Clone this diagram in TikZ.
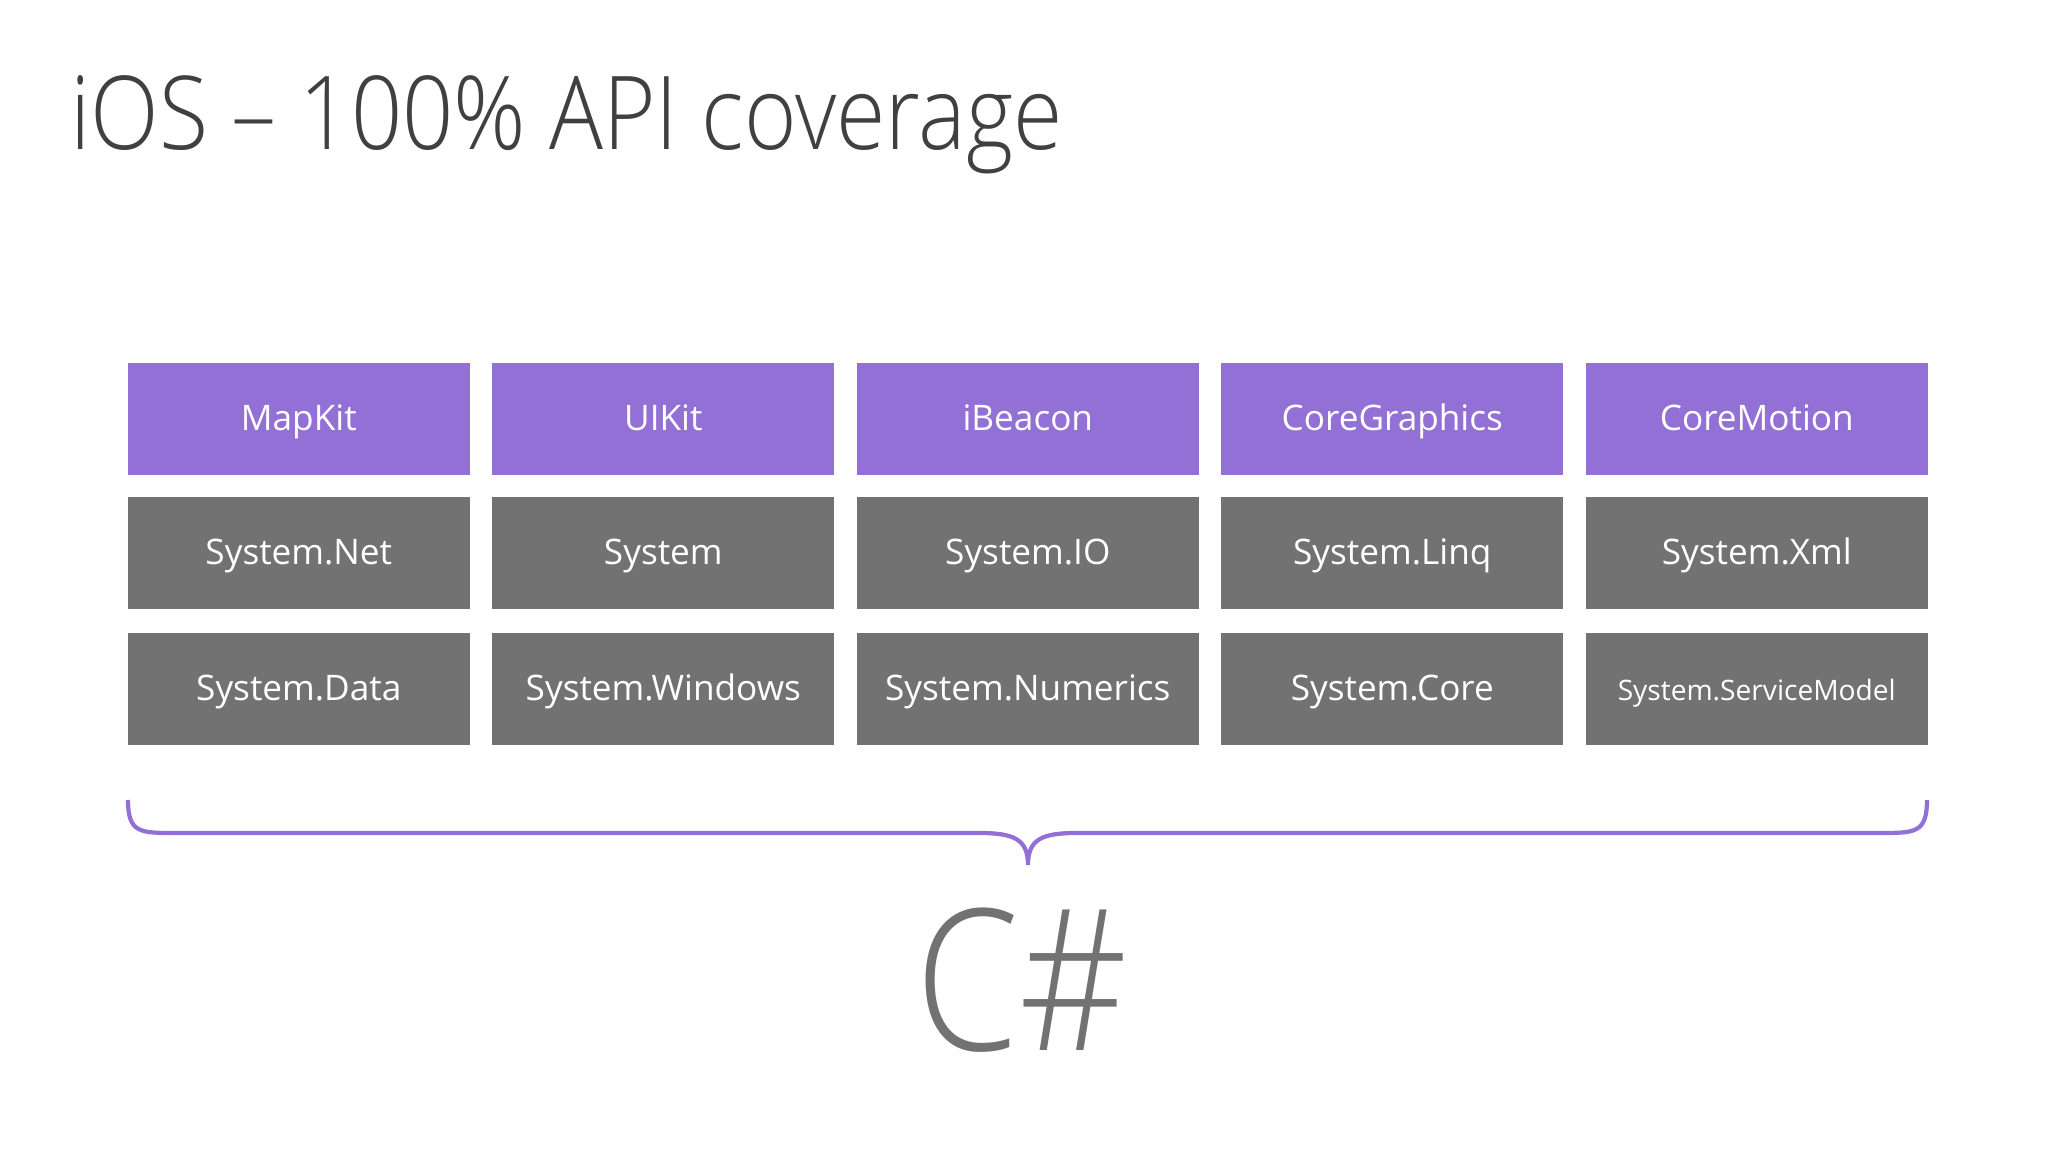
\documentclass[tikz,border=0pt]{standalone}
\usepackage{fontspec}
\setmainfont{Open Sans}
\newfontfamily\lightf{Open Sans Light}
\definecolor{purp}{HTML}{9370D6}
\definecolor{gbox}{HTML}{737273}
\definecolor{ttl}{HTML}{404040}
\begin{document}
\begin{tikzpicture}[x=0.01cm,y=-0.01cm,
  cell/.style={anchor=north west,minimum width=3.42cm,minimum height=1.12cm,inner sep=0,text=white,text height=1.8ex,text depth=0.5ex,font=\fontsize{10}{12}\selectfont},
  pcell/.style={cell,fill=purp},
  gcell/.style={cell,fill=gbox}]
\fill[white] (0,0) rectangle (2048,1152);
\node[anchor=base west,text=ttl,font=\lightf\fontsize{29}{36}\selectfont\addfontfeatures{FakeStretch=0.88},inner sep=0] (title) at (70,150) {iOS – 100\% API coverage};
\foreach \t [count=\i from 0] in {MapKit,UIKit,iBeacon,CoreGraphics,CoreMotion}
  \node[pcell] (p\i) at (127+\i*364.5,362) {\t};
\foreach \t [count=\i from 0] in {System.Net,System,System.IO,System.Linq,System.Xml}
  \node[gcell] (a\i) at (127+\i*364.5,496) {\t};
\foreach \t [count=\i from 0] in {System.Data,System.Windows,System.Numerics,System.Core}
  \node[gcell] (b\i) at (127+\i*364.5,632) {\t};
\node[gcell,font=\fontsize{8}{10}\selectfont] (b4) at (127+4*364.5,632) {System.ServiceModel};
\draw[purp,line width=1.2pt] (128,800) .. controls (128,833) and (140,833) .. (175,833)
  -- (980,833) .. controls (1015,833) and (1028,840) .. (1028,865)
  .. controls (1028,840) and (1041,833) .. (1076,833) -- (1880,833)
  .. controls (1915,833) and (1927,833) .. (1927,800);
\node[text=gbox,font=\lightf\fontsize{56}{70}\selectfont\addfontfeatures{FakeStretch=0.85},inner sep=0] (cs) at (1022,980) {C\#};
\end{tikzpicture}
\end{document}
